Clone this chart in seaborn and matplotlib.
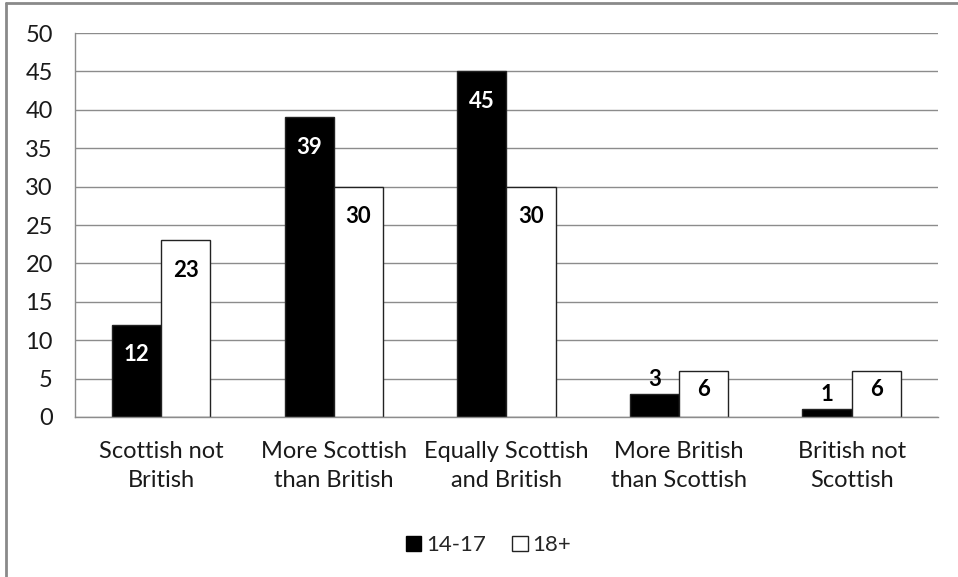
import matplotlib
matplotlib.use("Agg")
import matplotlib.pyplot as plt
from matplotlib.lines import Line2D
from matplotlib.patches import Patch
import seaborn as sns
import pandas as pd

categories = ["Scottish not\nBritish", "More Scottish\nthan British", "Equally Scottish\nand British",
              "More British\nthan Scottish", "British not\nScottish"]
age_14_17 = [12, 39, 45, 3, 1]
age_18_plus = [23, 30, 30, 6, 6]
groups = ["14-17", "18+"]

df = pd.DataFrame({
    "category": categories * 2,
    "group": [groups[0]] * len(categories) + [groups[1]] * len(categories),
    "value": age_14_17 + age_18_plus,
})

sns.set_style("white")
plt.rcParams["font.family"] = ["Lato", "DejaVu Sans"]
grid_col = "#8c8c8c"
fs = 16

fig = plt.figure(figsize=(9.58, 5.77), dpi=100)
ax = fig.add_axes([0.0783, 0.2773, 0.9007, 0.6655])

sns.barplot(data=df, x="category", y="value", hue="group", order=categories,
            palette={"14-17": "black", "18+": "white"}, width=0.57, gap=0,
            edgecolor="#222222", linewidth=1, legend=False, ax=ax, zorder=3)

# data labels: inside the top of the bar, above it when the bar is too short
for cont, col in zip(ax.containers, ["white", "black"]):
    for bar in cont:
        v = bar.get_height()
        xc = bar.get_x() + bar.get_width() / 2
        if v >= 5:
            ax.text(xc, v - min(3.9, 0.41 * v), f"{v:.0f}", ha="center", va="center",
                    color=col, fontsize=fs, fontweight="bold", zorder=5)
        else:
            ax.annotate(f"{v:.0f}", (xc, v), xytext=(0, 3), textcoords="offset points",
                        ha="center", va="bottom", color="black", fontsize=fs, fontweight="bold")

ax.set_ylim(0, 50)
ax.set_yticks(range(0, 51, 5))
ax.set_xlim(-0.5, len(categories) - 0.5)
ax.set_xticks([i - 0.5 for i in range(len(categories) + 1)], minor=True)
ax.tick_params(axis="x", which="major", length=0, pad=17, labelsize=17, colors="#1a1a1a")
ax.tick_params(axis="x", which="minor", length=7, width=1, color=grid_col, direction="out")
ax.tick_params(axis="y", length=7, width=1, color=grid_col, direction="out", pad=9,
               labelsize=17, labelcolor="#1a1a1a")
for t in ax.get_xticklabels():
    t.set_linespacing(1.5)
ax.yaxis.grid(True, color=grid_col, linewidth=1)
ax.set_axisbelow(True)
ax.set_xlabel("")
ax.set_ylabel("")
sns.despine(ax=ax, top=True, right=True)
for s in ["left", "bottom"]:
    ax.spines[s].set_color(grid_col)
    ax.spines[s].set_linewidth(1)
    ax.spines[s].set_zorder(4)

handles = [Patch(facecolor="black", edgecolor="black", label=groups[0]),
           Patch(facecolor="white", edgecolor="#222222", label=groups[1])]
fig.legend(handles=handles, loc="center", bbox_to_anchor=(0.51, 0.055), ncol=2, frameon=False,
           fontsize=fs, handlelength=0.7, handleheight=0.7, handletextpad=0.2, columnspacing=1.2)

# outer chart border (top and left visible)
fig.add_artist(Line2D([0.0065, 0.0065], [0, 0.995], transform=fig.transFigure, color="#8a8a8a", lw=2))
fig.add_artist(Line2D([0.0065, 1], [0.995, 0.995], transform=fig.transFigure, color="#8a8a8a", lw=2))

fig.savefig("out.png", dpi=100)
